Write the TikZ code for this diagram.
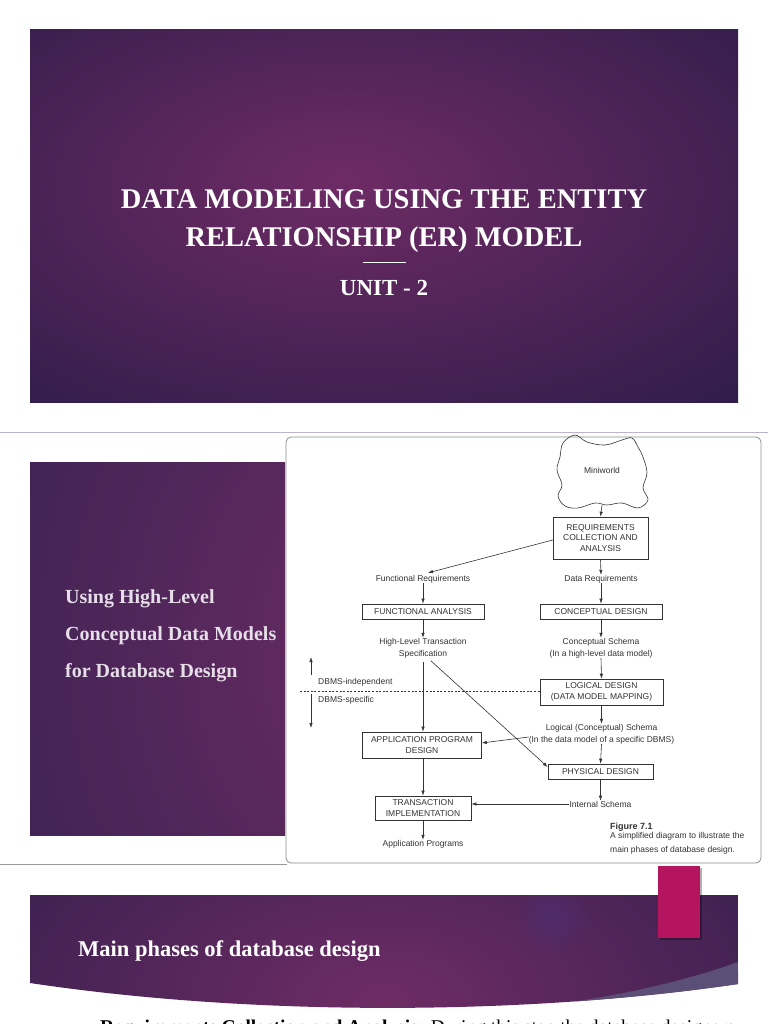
\documentclass[tikz,border=0pt]{standalone}
\usepackage{fontspec}
\setmainfont{Liberation Serif}
\setsansfont{Liberation Sans}
\usetikzlibrary{arrows.meta,fadings}

\definecolor{glowin}{HTML}{6E2B65}
\definecolor{glowout}{HTML}{211A43}
\definecolor{panelin}{HTML}{6C2B64}
\definecolor{panelout}{HTML}{26204A}
\definecolor{bannerin}{HTML}{6E2C65}
\definecolor{bannerout}{HTML}{231B45}
\definecolor{swoosh}{HTML}{5B4F78}
\definecolor{spot}{HTML}{4E2F74}
\definecolor{accent}{HTML}{B5145F}
\definecolor{sepline}{HTML}{BDB3CB}
\definecolor{ink}{HTML}{333333}
\definecolor{paneltext}{HTML}{E6DEE8}

\pgfdeclareradialshading{slideglow}{\pgfpoint{-3bp}{5bp}}{color(0bp)=(glowin); color(48bp)=(glowout); color(90bp)=(glowout)}
\pgfdeclareradialshading{panelglow}{\pgfpoint{50bp}{0bp}}{color(0bp)=(panelin); color(100bp)=(panelout); color(140bp)=(panelout)}
\pgfdeclareradialshading{bannerglow}{\pgfpoint{0bp}{0bp}}{color(0bp)=(bannerin); color(46bp)=(bannerout); color(100bp)=(bannerout)}
\tikzfading[name=glowfade, inner color=transparent!0, outer color=transparent!100]

\newcommand{\figfont}{\sffamily\fontsize{8.5}{10.5}\selectfont}
\newcommand{\figfonttwo}{\sffamily\fontsize{8.5}{12}\selectfont}
\newcommand{\slidetitlefont}{\bfseries\fontsize{28.5}{34}\selectfont}

\begin{document}
\begin{tikzpicture}[x=1pt,y=-1pt,
  box/.style={draw=ink, line width=0.6pt, inner sep=0pt, align=center, font=\figfont, text=ink},
  lbl/.style={inner sep=0pt, align=center, font=\figfont, text=ink},
  lbltwo/.style={inner sep=0pt, align=center, font=\figfonttwo, text=ink},
  arr/.style={draw=ink, line width=0.6pt, -{Latex[length=5pt,width=3.4pt]}},
  slidetext/.style={inner sep=0pt, text=white, font=\slidetitlefont, anchor=base},
  paneltxt/.style={inner sep=0pt, text=paneltext, font=\bfseries\fontsize{20}{24}\selectfont, anchor=base west},
  captxt/.style={inner sep=0pt, anchor=base west, text=ink, font=\sffamily\fontsize{8.5}{10.5}\selectfont}]

\useasboundingbox (0,0) rectangle (768,1024);
\fill[white] (0,0) rectangle (768,1024);

% ---------- slide 1 ----------
\shade[shading=slideglow] (30,30) rectangle (738,402);
\node[slidetext] (t1) at (384,209) {DATA MODELING USING THE ENTITY};
\node[slidetext] (t2) at (384,247) {RELATIONSHIP (ER) MODEL};
\draw[white, line width=0.8pt] (363,262.5) -- (406,262.5);
\node[slidetext, font=\bfseries\fontsize{23}{28}\selectfont] (unit) at (384,295) {UNIT - 2};

\draw[sepline, line width=1pt] (0,432) -- (768,432);

% ---------- slide 2 ----------
\shade[shading=panelglow] (30,462) rectangle (285,835);
\node[paneltxt] (p1) at (65,603) {Using High-Level};
\node[paneltxt] (p2) at (65,640) {Conceptual Data Models};
\node[paneltxt] (p3) at (65,677) {for Database Design};

\draw[black!40, line width=0.8pt] (0,864) -- (287,864);
\draw[black!45, fill=white, rounded corners=5pt, line width=0.8pt] (286,437) rectangle (761,863);

% ---------- figure ----------
\node[lbl, minimum width=91pt, minimum height=70pt] (mw) at (602,470) {Miniworld};
\draw[ink, line width=0.6pt] plot[smooth cycle, tension=0.6] coordinates {(563,443) (575,435) (587,442) (605,445) (622,440) (632,438) (638,447) (643,457) (647,473) (643,488) (648,500) (638,508) (622,503) (607,505) (595,503) (578,508) (565,506) (558,496) (562,485) (557,470) (560,457)};

\node[box, minimum width=95pt, minimum height=42pt] (req) at (600.5,538) {REQUIREMENTS\\COLLECTION AND\\ANALYSIS};
\node[lbl] (dreq) at (601,579) {Data Requirements};
\node[lbl] (freq) at (423,579) {Functional Requirements};
\node[box, minimum width=122pt, minimum height=15pt] (cd) at (601,611.5) {CONCEPTUAL DESIGN};
\node[box, minimum width=122pt, minimum height=15pt] (fa) at (423,611.5) {FUNCTIONAL ANALYSIS};
\node[lbltwo] (cs) at (601,648) {Conceptual Schema\\(In a high-level data model)};
\node[lbltwo] (hlt) at (423,648) {High-Level Transaction\\Specification};
\node[box, minimum width=123pt, minimum height=26pt] (ld) at (601.5,692) {LOGICAL DESIGN\\(DATA MODEL MAPPING)};
\node[lbltwo] (ls) at (601.5,734) {Logical (Conceptual) Schema\\(In the data model of a specific DBMS)};
\node[box, minimum width=105pt, minimum height=15pt] (pd) at (600.5,771.5) {PHYSICAL DESIGN};
\node[lbl] (is) at (600.5,804) {Internal Schema};
\node[box, minimum width=119pt, minimum height=26pt] (apd) at (422,745) {APPLICATION PROGRAM\\DESIGN};
\node[box, minimum width=96pt, minimum height=24pt] (ti) at (423,808) {TRANSACTION\\IMPLEMENTATION};
\node[lbl] (ap) at (423,844) {Application Programs};

\draw[arr] (mw.south) -- (req.north);
\draw[arr] (req.south) -- (dreq.north);
\draw[arr] ([yshift=-2pt]req.west) -- ([xshift=5pt,yshift=2pt]freq.north);
\draw[arr] (freq.south) -- (fa.north);
\draw[arr] (dreq.south) -- (cd.north);
\draw[arr] (cd.south) -- (cs.north);
\draw[arr] (fa.south) -- (hlt.north);
\draw[arr] (cs.south) -- (ld.north);
\draw[arr] (ld.south) -- (ls.north);
\draw[arr] (ls.south) -- (pd.north);
\draw[arr] (pd.south) -- (is.north);
\draw[arr] (is.west) -- (is.west -| ti.east);
\draw[arr, shorten <=4pt] (hlt.south) -- (hlt.south |- apd.north);
\draw[arr, shorten <=4pt] ([xshift=5pt]hlt.south) -- ([yshift=4.5pt]pd.west);
\draw[arr] ([yshift=-3pt]ls.west) -- ([yshift=2pt]apd.east);
\draw[arr] (apd.south -| ti.north) -- (ti.north);
\draw[arr] (ti.south) -- (ap.north);

\coordinate (dl) at (300,691);
\draw[ink, line width=0.5pt, dash pattern=on 2pt off 1.6pt] (dl) -- (dl -| ld.west);
\coordinate (u0) at (311,675);
\coordinate (u1) at (311,657);
\coordinate (d0) at (311,694);
\coordinate (d1) at (311,728);
\draw[arr] (u0) -- (u1);
\draw[arr] (d0) -- (d1);
\node[lbl, anchor=west] (dbi) at (318,682) {DBMS-independent};
\node[lbl, anchor=west] (dbs) at (318,700.5) {DBMS-specific};

\node[captxt, font=\sffamily\bfseries\fontsize{9}{11}\selectfont] (fig) at (610,829.5) {Figure 7.1};
\node[captxt] (cap1) at (610,838.5) {A simplified diagram to illustrate the};
\node[captxt] (cap2) at (610,852.5) {main phases of database design.};

% ---------- slide 3 ----------
\begin{scope}
  \clip (30,895) -- (738,895) -- (738,984) .. controls (520,1016) and (250,1016) .. (30,983) -- cycle;
  \shade[shading=bannerglow] (30,800) rectangle (738,1200);
  \fill[spot, path fading=glowfade, opacity=0.7] (553,917) circle (38);
  \fill[swoosh] (738,962) .. controls (660,990) and (560,1008) .. (440,1016) -- (745,1025) -- cycle;
\end{scope}
\fill[black, opacity=0.3] (659.5,867.5) rectangle (701.5,940);
\fill[accent] (658,866) rectangle (700,938);
\node[inner sep=0pt, anchor=base west, text=white, font=\bfseries\fontsize{22.5}{27}\selectfont] (mp) at (78,956) {Main phases of database design};

\node[inner sep=0pt, anchor=base west, text=black, font=\fontsize{19.5}{23}\selectfont] (rq) at (100,1033) {\textbf{Requirements Collection and Analysis:} During this step the database designers};
\end{tikzpicture}
\end{document}
